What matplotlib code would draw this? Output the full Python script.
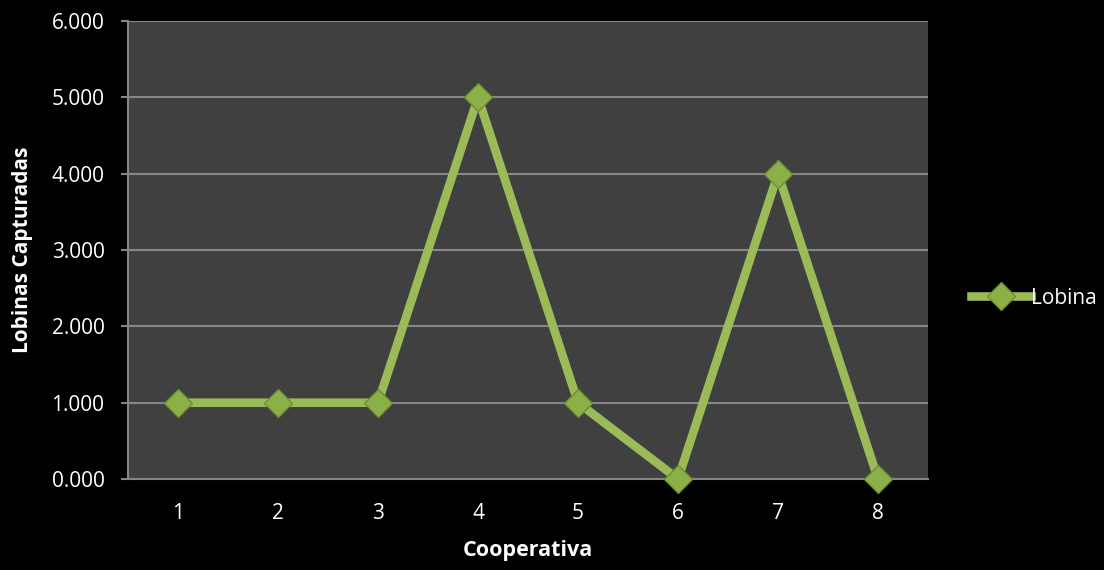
import matplotlib.pyplot as plt
from matplotlib.ticker import FuncFormatter

cooperativas = [1, 2, 3, 4, 5, 6, 7, 8]
lobinas = [1000, 1000, 1000, 5000, 1000, 0, 4000, 0]
serie = "Lobina"

verde = "#9BBB59"
gris = "#868686"

plt.rcParams["font.family"] = ["Open Sans", "DejaVu Sans"]

fig = plt.figure(figsize=(11.04, 5.70), dpi=100, facecolor="black")
ax = fig.add_axes([0.116, 0.1596, 0.7246, 0.8034])
ax.set_facecolor("#404040")

ax.plot(cooperativas, lobinas, color=verde, lw=6.2, marker="D", ms=14.5,
        mfc="#8CB048", mec="#6E8E34", mew=1.0, label=serie,
        solid_joinstyle="miter", zorder=3, clip_on=False)

ax.set_xlim(0.5, 8.5)
ax.set_ylim(0, 6000)
ax.set_yticks(range(0, 6001, 1000))
ax.yaxis.set_major_formatter(FuncFormatter(lambda v, p: "%d.000" % (v // 1000)))
ax.set_xticks(cooperativas)

ax.grid(axis="y", color=gris, lw=1.5, zorder=1)
ax.set_axisbelow(True)
for s in ["top", "right"]:
    ax.spines[s].set_visible(False)
for s in ["left", "bottom"]:
    ax.spines[s].set_color(gris)
    ax.spines[s].set_linewidth(1.5)

ax.tick_params(axis="y", colors=gris, labelcolor="white", labelsize=15,
               length=5, width=1.5, pad=12)
ax.tick_params(axis="x", length=0, labelcolor="white", labelsize=15, pad=17)

ax.set_xlabel("Cooperativa", color="white", fontsize=15.5, fontweight="bold",
              labelpad=12)
ax.set_ylabel("Lobinas Capturadas", color="white", fontsize=15,
              fontweight="bold", labelpad=13)

leg = ax.legend(loc="center left", bbox_to_anchor=(1.03, 0.395), frameon=False,
                fontsize=15, handlelength=2.9, handletextpad=0.0)
for t in leg.get_texts():
    t.set_color("white")

fig.savefig("out.png", dpi=100, facecolor="black")
